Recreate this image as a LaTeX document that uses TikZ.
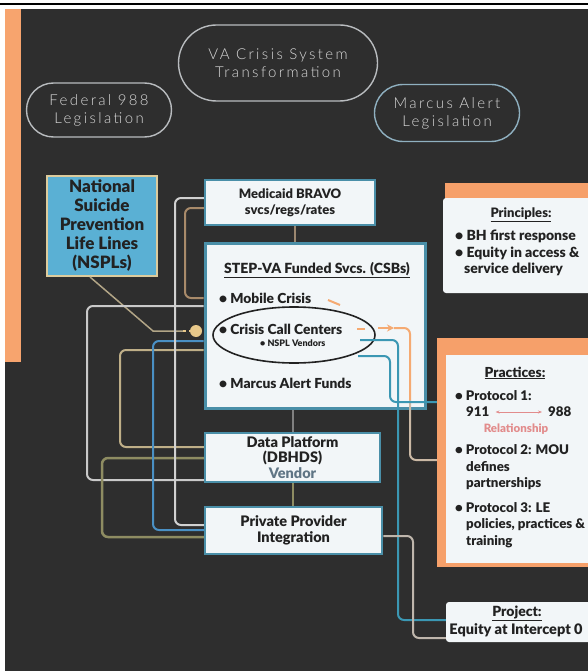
\documentclass[tikz,border=0pt]{standalone}
\usepackage{fontspec}
\setmainfont{Lato}[BoldFont=Lato Black]
\newfontfamily\legalfont[LetterSpace=16]{Lato Light}
\usetikzlibrary{shapes.misc,shapes.geometric,arrows.meta}

\definecolor{slate}{HTML}{2E2E2E}
\definecolor{sidebar}{HTML}{F7A46E}
\definecolor{pracorange}{HTML}{F6A06A}
\definecolor{ovalrim}{HTML}{B9BCBF}
\definecolor{ovalblue}{HTML}{8FB0C0}
\definecolor{ovaltext}{HTML}{D8D8D8}
\definecolor{cardrim}{HTML}{4A8FA8}
\definecolor{cardfill}{HTML}{F2F6F8}
\definecolor{cardtext}{HTML}{222222}
\definecolor{nsplblue}{HTML}{5AB0D4}
\definecolor{nsplrim}{HTML}{DCCB9C}
\definecolor{greyln}{HTML}{C9C9C9}
\definecolor{tanln}{HTML}{A88A6A}
\definecolor{beigeln}{HTML}{BFAF88}
\definecolor{oliveln}{HTML}{8E8C62}
\definecolor{blueln}{HTML}{4A90C4}
\definecolor{tealln}{HTML}{3B97B3}
\definecolor{orangeln}{HTML}{F5AA72}
\definecolor{hubfill}{HTML}{E8C88A}
\definecolor{relred}{HTML}{E28C8C}
\definecolor{vendorgrey}{HTML}{5F7585}

\begin{document}
\begin{tikzpicture}[x=1pt, y=-1pt,
  legal/.style={rounded rectangle, draw=ovalrim, line width=1.4pt, text=ovaltext,
    font=\legalfont\fontsize{15}{18}\selectfont, align=center, inner sep=0pt},
  card/.style={rectangle, draw=cardrim, line width=2.5pt, fill=cardfill, text=cardtext,
    font=\bfseries\fontsize{13}{16}\selectfont, align=center, inner sep=0pt},
  sheet/.style={rectangle, fill=cardfill, rounded corners=3pt, inner sep=0pt},
  item/.style={anchor=west, inner sep=0pt, text=cardtext, font=\bfseries\fontsize{13.8}{16}\selectfont},
  side/.style={anchor=west, inner sep=0pt, text=cardtext, font=\bfseries\fontsize{13.3}{17}\selectfont},
  head/.style={inner sep=0pt, text=cardtext, font=\bfseries\fontsize{13}{16}\selectfont},
  link/.style={line width=2pt, rounded corners=6pt},
]
\useasboundingbox (0,0) rectangle (588,671);
\clip (0,0) rectangle (588,671);

% photo frame round the slide
\fill[white] (0,0) rectangle (588,671);
\draw[black, line width=1.6pt] (0,4) -- (588,4);
\fill[slate] (5,9) rectangle (588,671);
\fill[sidebar] (5,9) rectangle (21,362);

% legislation ovals
\node[legal, minimum width=199pt, minimum height=76pt] (vacst) at (278,63) {VA Crisis System\\Transformation};
\node[legal, minimum width=145pt, minimum height=54pt] (fed) at (99,110) {Federal 988\\Legislation};
\node[legal, draw=ovalblue, minimum width=145pt, minimum height=57pt] (marcus) at (447,113) {Marcus Alert\\Legislation};

% national lifeline box
\node[rectangle, fill=nsplblue, draw=nsplrim, line width=2pt, minimum width=110pt, minimum height=100pt,
  inner sep=0pt, align=center, text=cardtext, font=\bfseries\fontsize{17}{19}\selectfont]
  (nspl) at (102,226) {National\\Suicide\\Prevention\\Life Lines\\(NSPLs)};

% middle column
\node[card, minimum width=170pt, minimum height=45pt] (med) at (290,202.5) {Medicaid BRAVO\\svcs/regs/rates};
\node[card, line width=3pt, minimum width=220pt, minimum height=165pt] (step) at (315,325.5) {};
\node[card, font=\bfseries\fontsize{14.5}{15.5}\selectfont, minimum width=175pt, minimum height=49pt] (data) at (292.5,457.5) {Data Platform\\(DBHDS)\\\textcolor{vendorgrey}{Vendor}};
\node[card, font=\bfseries\fontsize{14.5}{16}\selectfont, minimum width=177pt, minimum height=47pt] (priv) at (293.5,530.5) {Private Provider\\Integration};

\node[head, font=\bfseries\fontsize{14}{16}\selectfont] (stephead) at (317,270) {\underline{STEP-VA Funded Svcs. (CSBs)}};
\node[item] (mobile) at (219,298) {• Mobile Crisis};
\node[ellipse, draw=cardtext, line width=1.6pt, minimum width=162pt, minimum height=56pt] (ring) at (294,335) {};
\node[item] (callc) at (219,329) {• Crisis Call Centers};
\node[item, font=\bfseries\fontsize{9}{11}\selectfont] (vendors) at (260,343) {• NSPL Vendors};
\node[item] (mafunds) at (219,383) {• Marcus Alert Funds};

% right column
\fill[pracorange] (445,183) rectangle (600,240);
\node[sheet, minimum width=157pt, minimum height=95pt] (princ) at (521.5,245.5) {};
\node[head, font=\bfseries\fontsize{13}{16}\selectfont] at (521,215) {\underline{Principles:}};
\node[side, font=\bfseries\fontsize{14}{16}\selectfont] at (455,236) {• BH first response};
\node[side, font=\bfseries\fontsize{14}{16}\selectfont] at (455,253) {• Equity in access \&};
\node[side, font=\bfseries\fontsize{14}{16}\selectfont] at (464,269) {service delivery};

\node[rectangle, fill=pracorange, minimum width=163pt, minimum height=229pt, inner sep=0pt] (prac) at (518.5,452.5) {};
\fill[cardfill] (446,355) rectangle (600,563);
\node[head, font=\bfseries\fontsize{13.8}{17}\selectfont] at (515,373) {\underline{Practices:}};
\node[side] at (455,396) {• Protocol 1:};
\node[side] (n911) at (466,412) {911};
\node[side] (n988) at (548,412) {988};
\node[inner sep=0pt, text=relred, font=\bfseries\fontsize{11.5}{14}\selectfont] at (516,429) {Relationship};
\node[side] at (455,450) {• Protocol 2: MOU};
\node[side] at (466,467) {defines};
\node[side] at (466,484) {partnerships};
\node[side] at (455,508) {• Protocol 3: LE};
\node[side] at (466,525) {policies, practices \&};
\node[side] at (466,542) {training};

\node[sheet, minimum width=154pt, minimum height=40pt] (proj) at (523,622) {};
\node[head, font=\bfseries\fontsize{14}{16}\selectfont] at (517,613) {\underline{Project:}};
\node[head, font=\bfseries\fontsize{14.5}{16}\selectfont] at (516,630) {Equity at Intercept 0};

% 911 - 988 relationship
\draw[relred, line width=1pt, {Stealth[length=4pt]}-{Stealth[length=4pt]}] ([xshift=6pt]n911.east) -- ([xshift=-6pt]n988.west);

% lifeline into the call centres
\coordinate (elbow) at (153,331);
\coordinate (dashstart) at (183,331);
\node[circle, fill=hubfill, minimum size=12pt, inner sep=0pt] (hub) at (196,331) {};
\draw[beigeln!80!gray, line width=1.5pt] (nspl.south -| 90,0) -- (elbow) -- (dashstart);
\draw[hubfill, line width=1.8pt, dashed] (dashstart) -- (hub);

% left side links
\draw[link, greyln] (step.west |- 0,306) -| (87,480) -- (data.west |- 0,480);
\draw[link, tanln] (med.west |- 0,208) -| (185,298) -- (step.west |- 0,298);
\draw[link, beigeln] (step.west |- 0,350) -| (120,447) -- (data.west |- 0,447);
\draw[link, oliveln, line width=2.5pt] (data.west |- 0,458) -| (102,537) -- (priv.west |- 0,537);
\draw[link, blueln] (step.west |- 0,341) -| (153,530) -- (priv.west |- 0,530);
\draw[link, greyln!85!white] (med.west |- 0,198) -| (175,525) -- (priv.west |- 0,525);

% column links
\draw[tanln!70!gray, line width=2pt] (med.south -| 295,0) -- (step.north -| 295,0);
\draw[gray, line width=2pt] (step.south -| 293,0) -- (data.north -| 293,0);
\draw[oliveln, line width=2pt] (data.south -| 293,0) -- (priv.north -| 293,0);

% right side links
\coordinate (mcend) at (328,300);
\coordinate (ccend) at (357,329);
\coordinate (arrowtip) at (394,328);
\coordinate (vendend) at (360,340);
\coordinate (ringfoot) at (358,356);
\draw[orangeln, line width=2pt] (mcend) -- ++(12,5);
\draw[orangeln, line width=2pt] (ccend) -- ++(8,0);
\draw[orangeln, line width=2pt, -{Stealth[length=7pt,width=7pt]}] (378,328) -- (arrowtip);
\draw[link, orangeln] (arrowtip) -| (410,400);
\draw[link, tanln!60!white] (410,400) |- (prac.west |- 0,460);
\draw[link, tealln] (vendend) -| (398,620) -- (proj.west |- 0,620);
\draw[link, tealln] (ringfoot) -| (390,402) -- (prac.west |- 0,402);
\draw[link, greyln!70!tanln] (priv.east |- 0,536) -| (413,638) -- (proj.west |- 0,638);
\end{tikzpicture}
\end{document}
